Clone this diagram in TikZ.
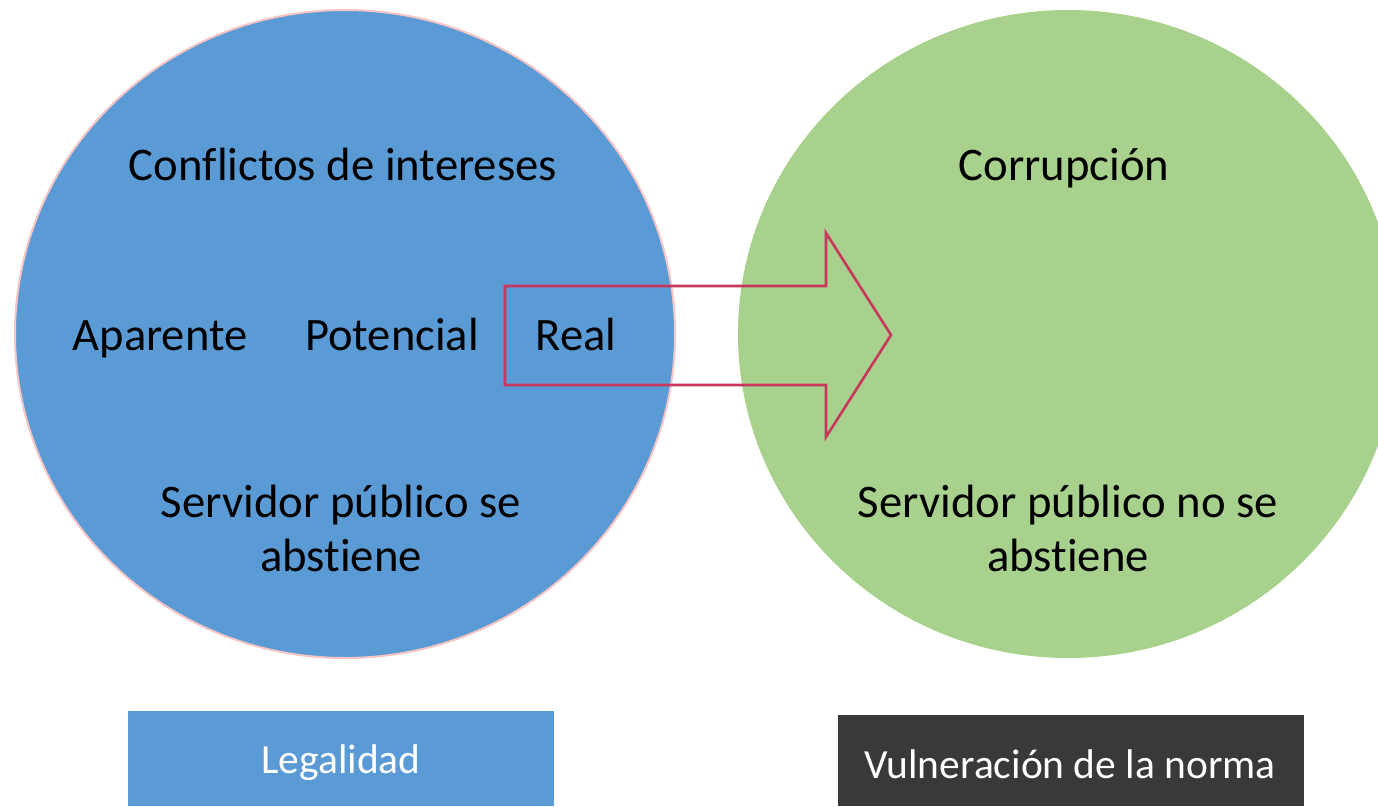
\documentclass[tikz,border=0pt]{standalone}
\usepackage{fontspec}
\setmainfont{Carlito}[Ligatures=CommonOff]
\definecolor{cblue}{HTML}{5B9BD5}
\definecolor{cgreen}{HTML}{A9D18E}
\definecolor{cdark}{HTML}{3B3838}
\definecolor{cpink}{HTML}{F8C4C4}
\definecolor{carrow}{HTML}{C8375E}
\tikzset{
  big/.style={font=\fontsize{46.7}{56}\selectfont, text=black, align=center, inner sep=0pt},
  lite/.style={font=\fontsize{46.5}{56}\selectfont, text=black, inner sep=0pt},
  tag/.style={text=white, inner sep=0pt},
}
\begin{document}
\begin{tikzpicture}[x=1pt,y=-1pt]
\useasboundingbox (0,0) rectangle (1378,806);
\begin{scope}
\clip (0,0) rectangle (1378,806);
% circles
\fill[cblue] (345,334) ellipse [x radius=330, y radius=324];
\draw[cpink, line width=2pt] (345,334) ellipse [x radius=330, y radius=324];
\fill[cgreen] (1068,334) ellipse [x radius=330, y radius=324];
% bottom boxes
\fill[cblue] (128,711) rectangle (554,806);
\fill[cdark] (838,715) rectangle (1304,806);
\end{scope}
% arrow outline
\draw[carrow, line width=2.6pt, line join=miter]
  (505,286) -- (826,286) -- (826,233) -- (891,335) -- (826,437) -- (826,385) -- (505,385) -- cycle;
% texts
\node[big, anchor=base] (conf) at (343,180) {Conflictos de intereses};
\node[lite, anchor=base] (apar) at (160,350) {Aparente};
\node[lite, anchor=base] (pot) at (392,350) {Potencial};
\node[lite, anchor=base] (real) at (576,350) {Real};
\node[big, anchor=base] (serv1) at (341,517) {Servidor público se};
\node[big, anchor=base] (abs1) at (341,571) {abstiene};
\node[big, anchor=base] (corr) at (1064,180) {Corrupción};
\node[big, anchor=base] (serv2) at (1068,517) {Servidor público no se};
\node[big, anchor=base] (abs2) at (1068,571) {abstiene};
\node[tag, font=\fontsize{41.5}{50}\selectfont, anchor=base] (leg) at (341,773) {Legalidad};
\node[tag, font=\fontsize{41.5}{50}\selectfont, anchor=base] (vul) at (1070,778) {Vulneración de la norma};
\end{tikzpicture}
\end{document}
